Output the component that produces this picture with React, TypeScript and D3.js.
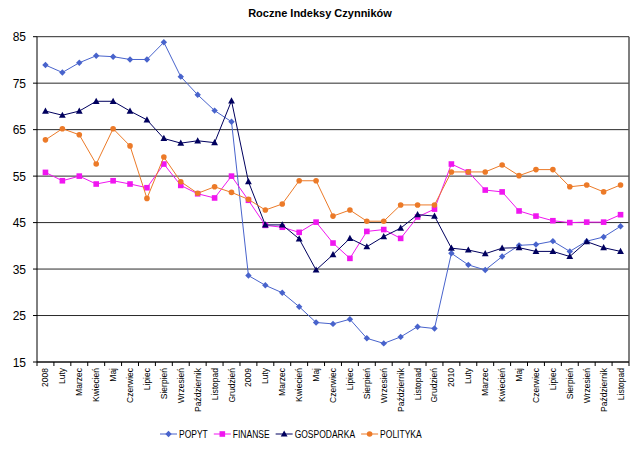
import React from "react";
import * as d3 from "d3";

const categories = [
  "2008", "Luty", "Marzec", "Kwiecień", "Maj", "Czerwiec", "Lipiec", "Sierpień", "Wrzesień", "Październik", "Listopad", "Grudzień",
  "2009", "Luty", "Marzec", "Kwiecień", "Maj", "Czerwiec", "Lipiec", "Sierpień", "Wrzesień", "Październik", "Listopad", "Grudzień",
  "2010", "Luty", "Marzec", "Kwiecień", "Maj", "Czerwiec", "Lipiec", "Sierpień", "Wrzesień", "Październik", "Listopad",
];

const popyt = [78.9, 77.3, 79.4, 80.9, 80.7, 80.1, 80.1, 83.8, 76.4, 72.5, 69.1, 66.7,
  33.6, 31.5, 29.9, 26.9, 23.5, 23.2, 24.2, 20.1, 19.0, 20.4, 22.6, 22.2,
  38.4, 35.9, 34.8, 37.7, 40.1, 40.3, 41.0, 38.8, 41.0, 41.9, 44.2];
const finanse = [55.8, 54.0, 55.0, 53.3, 54.0, 53.3, 52.5, 57.6, 53.0, 51.2, 50.3, 55.0,
  49.8, 44.4, 44.0, 42.9, 45.1, 40.6, 37.3, 43.1, 43.5, 41.6, 46.2, 47.9,
  57.6, 55.9, 52.0, 51.6, 47.5, 46.4, 45.4, 45.0, 45.1, 45.1, 46.7];
const gospodarka = [69.0, 68.1, 69.0, 71.1, 71.1, 69.0, 67.1, 63.1, 62.1, 62.6, 62.2, 71.2,
  53.8, 44.5, 44.5, 41.5, 34.8, 38.1, 41.6, 39.8, 42.0, 43.8, 46.7, 46.4,
  39.5, 39.1, 38.3, 39.5, 39.6, 38.8, 38.8, 37.7, 40.9, 39.6, 38.8];
const polityka = [62.8, 65.2, 63.9, 57.6, 65.2, 61.5, 50.2, 59.1, 53.8, 51.3, 52.7, 51.5,
  50.0, 47.7, 49.0, 54.0, 54.0, 46.4, 47.7, 45.3, 45.3, 48.8, 48.8, 48.8,
  55.9, 55.9, 55.9, 57.4, 55.1, 56.4, 56.4, 52.7, 53.1, 51.6, 53.1];

const yTicks = [15, 25, 35, 45, 55, 65, 75, 85];

const seriesNames = ["POPYT", "FINANSE", "GOSPODARKA", "POLITYKA"];
const seriesColors = ["#4863cc", "#f016f0", "#00005e", "#ec7a28"];
const seriesMarkers = ["diamond", "square", "triangle", "circle"];

const W = 640, H = 453;
const left = 37, right = 629, top = 36.7, bottom = 362;
const FONT = "'Liberation Sans', Arial, sans-serif";

function Marker({ type, x, y, color }: { type: string; x: number; y: number; color: string }) {
  if (type === "diamond") {
    const s = 3.2;
    return <path d={`M${x},${y - s}L${x + s},${y}L${x},${y + s}L${x - s},${y}Z`} fill={color} />;
  }
  if (type === "square") {
    return <rect x={x - 2.8} y={y - 2.8} width={5.6} height={5.6} fill={color} />;
  }
  if (type === "triangle") {
    return <path d={`M${x},${y - 3.6}L${x + 3.4},${y + 2.6}L${x - 3.4},${y + 2.6}Z`} fill={color} />;
  }
  return <circle cx={x} cy={y} r={2.8} fill={color} />;
}

export default function App() {
  const x = d3.scaleBand<number>().domain(d3.range(categories.length)).range([left, right]);
  const y = d3.scaleLinear().domain([15, 85]).range([bottom, top]);
  const cx = (i: number) => (x(i) as number) + x.bandwidth() / 2;
  const data = [popyt, finanse, gospodarka, polityka];
  const line = d3.line<number>().x((_, i) => cx(i)).y((d) => y(d));

  // legend layout: measured widths of condensed text
  const legendFont = 10;
  const squeeze = 0.85;
  const charW: Record<string, number> = { P: 667, O: 778, Y: 667, T: 611, F: 611, I: 278, N: 722, A: 667, S: 667, E: 667, G: 778, D: 722, R: 722, K: 667, L: 556 };
  const textW = (s: string) => s.split("").reduce((a, c) => a + (charW[c] || 667), 0) / 1000 * legendFont * squeeze;
  const lineLen = 17, gap1 = 2, gap2 = 6;
  let cursor = 160;
  const legendItems = seriesNames.map((n, k) => {
    const x0 = cursor;
    const tw = textW(n);
    cursor = x0 + lineLen + gap1 + tw + gap2;
    return { n, k, x0, tw };
  });

  return (
    <svg width={W} height={H} style={{ position: "absolute", left: 0, top: 0, background: "#fff" }}>
      <rect width={W} height={H} fill="#fff" />
      <text x={320} y={17} textAnchor="middle" fontFamily={FONT} fontSize={11} fontWeight="bold" fill="#000">
        Roczne Indeksy Czynników
      </text>
      {yTicks.map((t) => (
        <g key={t}>
          <line x1={left} x2={right} y1={y(t)} y2={y(t)} stroke="#2a2a2a" strokeWidth={1} />
          <line x1={left - 4} x2={left} y1={y(t)} y2={y(t)} stroke="#000" strokeWidth={1} />
          <text x={26} y={y(t) + 4.5} textAnchor="end" fontFamily={FONT} fontSize={12} fill="#000">
            {t}
          </text>
        </g>
      ))}
      <line x1={left} x2={left} y1={top} y2={bottom} stroke="#000" strokeWidth={1} />
      <line x1={right} x2={right} y1={top} y2={bottom} stroke="#555" strokeWidth={1.5} />
      <line x1={left} x2={right} y1={bottom} y2={bottom} stroke="#000" strokeWidth={1} />
      {d3.range(categories.length + 1).map((i) => {
        const xx = left + i * x.bandwidth();
        return <line key={i} x1={xx} x2={xx} y1={bottom} y2={bottom + 4} stroke="#000" strokeWidth={1} />;
      })}
      {categories.map((c, i) => (
        <text
          key={i}
          transform={`translate(${cx(i) + 3},${bottom + 6}) rotate(-90)`}
          textAnchor="end"
          fontFamily={FONT}
          fontSize={8.5}
          fill="#000"
        >
          {c}
        </text>
      ))}
      {data.map((s, k) => (
        <g key={k}>
          <path d={line(s) || ""} fill="none" stroke={seriesColors[k]} strokeWidth={1} />
          {s.map((v, i) => (
            <Marker key={i} type={seriesMarkers[k]} x={cx(i)} y={y(v)} color={seriesColors[k]} />
          ))}
        </g>
      ))}
      {legendItems.map(({ n, k, x0, tw }) => (
        <g key={n}>
          <line x1={x0} x2={x0 + lineLen} y1={434} y2={434} stroke={seriesColors[k]} strokeWidth={1} />
          <Marker type={seriesMarkers[k]} x={x0 + lineLen / 2} y={434} color={seriesColors[k]} />
          <text
            x={x0 + lineLen + gap1}
            y={437.5}
            fontFamily={FONT}
            fontSize={legendFont}
            textLength={tw}
            lengthAdjust="spacingAndGlyphs"
            fill="#000"
          >
            {n}
          </text>
        </g>
      ))}
    </svg>
  );
}
